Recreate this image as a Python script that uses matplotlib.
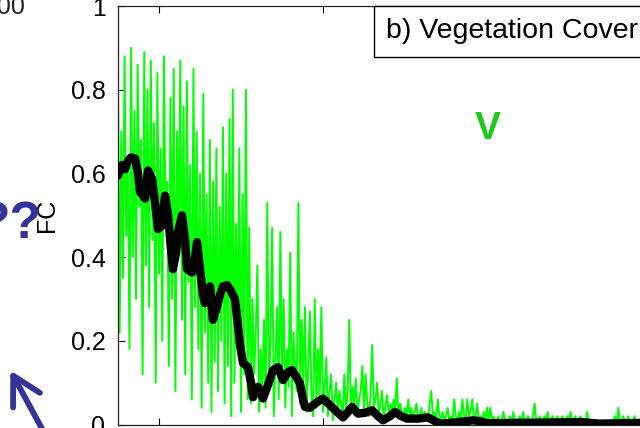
import numpy as np
import matplotlib
matplotlib.use("Agg")
import matplotlib.pyplot as plt
from matplotlib.patches import Rectangle, FancyArrowPatch

plt.rcParams['font.family'] = ['Liberation Sans', 'DejaVu Sans']

# Green (raw FC) series, values in hundredths, one per sample
green_a = [82, 22, 70, 35, 88, 45, 62, 18, 90, 40, 75, 30, 86, 52, 68, 12, 89, 38, 80, 28,
           87, 44, 72, 10, 84, 36, 66, 20, 88, 48, 58, 14, 78, 30, 85, 8, 70, 42, 87, 25,
           76, 12, 82, 34, 62, 6, 85, 28, 70, 18, 60, 4, 79, 22, 55, 10, 68, 3, 58, 15,
           66, 8, 52, 20, 71, 5, 60, 14, 73, 2, 80, 10, 48, 18, 66, 3, 55, 12, 80, 6]
green_b = [47, 5, 30, 12, 22, 38, 3, 18, 8, 25, 4, 53, 10, 20, 47, 2, 15, 28, 6, 46,
           12, 30, 4, 18, 9, 41, 2, 22, 14, 8, 53, 5, 25, 10, 28, 3, 14, 27]
green_c = [6, 2, 30, 4, 18, 7, 28, 3, 9, 16, 2, 8, 12, 1, 6, 10, 3, 8, 5, 2,
           12, 4, 7, 25, 3, 9, 5, 11, 2, 6, 8, 14, 3, 12, 5, 2, 7, 19, 4, 6,
           10, 2, 5, 8, 1, 4, 7, 3, 5, 2, 6, 4, 11, 2, 5, 3, 1, 4, 2, 6,
           2, 4, 1, 3, 5, 1, 2, 4, 1, 3, 2, 1, 5, 8, 2, 3, 1, 6, 2, 1]
green_d = [3, 1, 2, 4, 1, 2, 1, 6, 2, 1, 3, 1, 6, 2, 1, 6, 2, 3, 6, 1,
           2, 5, 1, 2, 1, 3, 1, 4, 1, 4, 1, 2, 0, 1, 2, 0, 1, 3, 1, 0,
           1, 2, 0, 3, 1, 0, 1, 2, 0, 3, 1, 0, 2, 1, 0, 2, 5, 1, 0, 2,
           1, 0, 2, 1, 3, 0, 1, 2, 0, 1, 2, 0, 1, 2, 0, 1, 2, 1, 3, 0,
           1, 2, 0, 1, 2, 0, 1, 0, 3, 1, 0, 0, 1, 0, 0, 0, 0, 0, 0, 0,
           0, 0, 1, 0, 1, 2, 0, 4, 1, 0, 2, 1, 0, 2, 1, 0, 1, 2, 0, 1,
           0, 2, 1, 0, 1, 0, 2, 1]

# Black (smoothed FC) series: sample positions and values
black_x = [0, 2.4, 4.3, 6.1, 7.9, 10.4, 12.2, 13.4, 16.5, 18.3, 20.7, 22.6, 24.4, 26.8,
           28.7, 30.5, 32.3, 33.5, 35.4, 36.6, 39, 40.9, 42.1, 45.1, 47, 48.2, 50, 51.8,
           53, 54.9, 56.1, 57.9, 60.4, 62.2, 64, 66.5, 68.3, 71.3, 73.2, 74.4, 76.2, 79.3,
           81.1, 82.3, 85.4, 88.4, 91.5, 94.5, 97.6, 100.6, 103.7, 106.1, 108.5, 111,
           112.8, 114, 117.1, 118.9, 122, 125, 129.3, 133.5, 137.2, 140.2, 142.7, 146.3,
           150.6, 154.9, 158.5, 161.6, 165.9, 168.9, 172.6, 176.2, 182.9, 189, 193.3,
           196.3, 205.5, 216.5, 220.7, 225, 245.1, 269.5, 281.7, 293.9, 306.1, 325]
black_y = [0.595, 0.62, 0.61, 0.63, 0.638, 0.636, 0.60, 0.556, 0.54, 0.607, 0.588, 0.53,
           0.467, 0.475, 0.547, 0.50, 0.42, 0.371, 0.41, 0.46, 0.50, 0.44, 0.371, 0.363,
           0.40, 0.436, 0.371, 0.31, 0.29, 0.31, 0.33, 0.25, 0.282, 0.31, 0.33, 0.333,
           0.323, 0.30, 0.234, 0.19, 0.147, 0.137, 0.10, 0.065, 0.09, 0.062, 0.095, 0.13,
           0.137, 0.106, 0.125, 0.13, 0.115, 0.098, 0.06, 0.042, 0.04, 0.046, 0.055, 0.062,
           0.046, 0.03, 0.017, 0.03, 0.042, 0.026, 0.028, 0.034, 0.02, 0.01, 0.02, 0.03,
           0.02, 0.014, 0.014, 0.017, 0.008, 0.002, 0.005, 0.01, 0.008, 0.003, 0.004,
           0.005, 0.006, 0.002, 0.003, 0.004]

y_ticks = [0, 0.2, 0.4, 0.6, 0.8, 1]
y_ticklabels = ['0', '0.2', '0.4', '0.6', '0.8', '1']
x_ticks = [25, 125, 225, 325]

green = np.array(green_a + green_b + green_c + green_d) / 100.0
gx = np.arange(len(green))

W, H = 640, 428
fig = plt.figure(figsize=(6.4, 4.28), dpi=100)
fig.patch.set_facecolor('white')

left, right, top, bottom = 118, 651, 6, 424.5
ax = fig.add_axes([left / W, (H - bottom) / H, (right - left) / W, (bottom - top) / H])
ax.plot(gx, green, color='#00ff00', lw=1.4, zorder=2)
ax.plot(black_x, black_y, color='black', lw=6, solid_capstyle='round',
        solid_joinstyle='round', zorder=3)
ax.set_xlim(0, 325)
ax.set_ylim(0, 1)
ax.set_yticks(y_ticks)
ax.set_yticklabels(y_ticklabels)
ax.set_xticks(x_ticks)
ax.tick_params(axis='both', direction='in', length=5, width=0.8, top=True, right=True,
               labelsize=18, labelbottom=False, pad=9)
for s in ax.spines.values():
    s.set_linewidth(0.9)
    s.set_color('#222222')

# y label
fig.text(47 / W, (H - 215) / H, 'FC', rotation=90, ha='center', va='center', fontsize=18)

# title box
fig.add_artist(Rectangle((374 / W, (H - 57) / H), (660 - 374) / W, (57 - top) / H,
                         transform=fig.transFigure, facecolor='white',
                         edgecolor='black', lw=1.0, zorder=5))
fig.text(386 / W, (H - 31) / H, 'b) Vegetation Cover', ha='left', va='center',
         fontsize=20.5, zorder=6)

# green V
fig.text(488 / W, (H - 129) / H, 'V', ha='center', va='center', fontsize=28,
         fontweight='bold', color='#1ec81e')

# fragments of the slide on the left
fig.text(25 / W, (H - 14) / H, '100', ha='right', va='baseline', fontsize=18,
         color='#222222')
fig.text(42 / W, (H - 238) / H, '??', ha='right', va='baseline', fontsize=37,
         fontweight='bold', color='#333399')
fig.add_artist(FancyArrowPatch(posA=(46 / W, (H - 436) / H), posB=(9 / W, (H - 368) / H),
                               transform=fig.transFigure, arrowstyle='->,head_length=1.0,head_width=0.55',
                               mutation_scale=20, lw=4.2, color='#333399'))

fig.savefig('out.png', dpi=100)
